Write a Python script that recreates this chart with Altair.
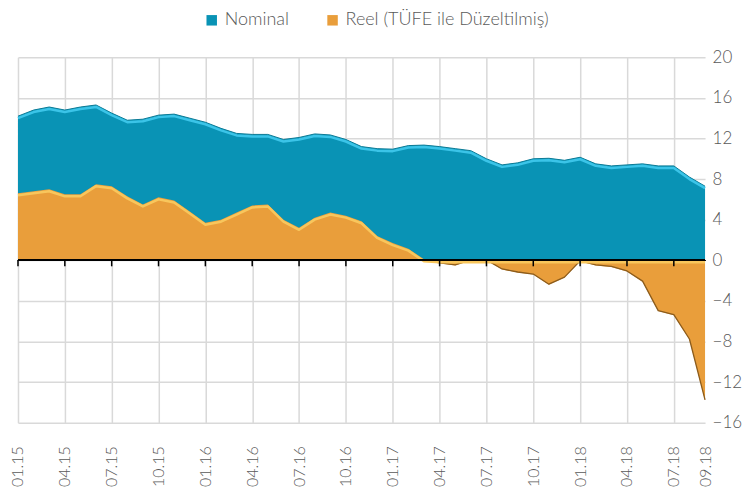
import altair as alt
import pandas as pd

months = [
    "01.15", "02.15", "03.15", "04.15", "05.15", "06.15", "07.15", "08.15", "09.15", "10.15", "11.15", "12.15",
    "01.16", "02.16", "03.16", "04.16", "05.16", "06.16", "07.16", "08.16", "09.16", "10.16", "11.16", "12.16",
    "01.17", "02.17", "03.17", "04.17", "05.17", "06.17", "07.17", "08.17", "09.17", "10.17", "11.17", "12.17",
    "01.18", "02.18", "03.18", "04.18", "05.18", "06.18", "07.18", "08.18", "09.18",
]

nominal = [
    14.2, 14.8, 15.1, 14.8, 15.1, 15.3, 14.5, 13.8, 13.9, 14.3, 14.4, 14.0,
    13.6, 13.0, 12.5, 12.4, 12.4, 11.9, 12.1, 12.45, 12.35, 11.9, 11.2, 11.0,
    10.95, 11.3, 11.35, 11.2, 11.0, 10.8, 10.0, 9.4, 9.6, 10.0, 10.05, 9.85,
    10.15, 9.5, 9.3, 9.4, 9.5, 9.3, 9.3, 8.2, 7.3,
]

reel = [
    6.6, 6.8, 7.0, 6.5, 6.5, 7.5, 7.3, 6.3, 5.5, 6.2, 5.9, 4.8,
    3.7, 4.0, 4.7, 5.4, 5.5, 4.0, 3.2, 4.2, 4.7, 4.4, 3.85, 2.4,
    1.7, 1.15, 0.1, -0.3, -0.5, 0.0, 0.0, -0.9, -1.2, -1.4, -2.4, -1.7,
    -0.1, -0.5, -0.65, -1.1, -2.1, -5.0, -5.4, -7.8, -13.8,
]

tick_labels = ["01.15", "04.15", "07.15", "10.15", "01.16", "04.16", "07.16", "10.16",
               "01.17", "04.17", "07.17", "10.17", "01.18", "04.18", "07.18", "09.18"]
tick_marks = tick_labels[:-1]
y_ticks = [-16, -12, -8, -4, 0, 4, 8, 12, 16, 20]

series_names = ["Nominal", "Reel (TÜFE ile Düzeltilmiş)"]
series_colors = ["#0993B5", "#E99E3B"]

df = pd.DataFrame({"month": months, "nominal": nominal, "reel": reel})
ticks_df = pd.DataFrame({"month": tick_marks})

FONT = "Lato"
GRAY = "#595959"

x_enc = alt.X(
    "month:O",
    scale=alt.Scale(domain=months, type="point", padding=0),
    axis=alt.Axis(
        values=tick_labels,
        title=None,
        labelAngle=-90,
        labelPadding=23,
        ticks=False,
        domain=False,
        grid=True,
        gridColor={"condition": {"test": "datum.value === '09.18'", "value": "transparent"}, "value": "#D9D9D9"},
        gridWidth=1.5,
        labelFontSize=16,
    ),
)

y_scale = alt.Scale(domain=[-16, 20], nice=False)
y_axis = alt.Axis(
    orient="right",
    values=y_ticks,
    title=None,
    ticks=False,
    domain=False,
    grid=True,
    gridColor="#D9D9D9",
    gridWidth=1.5,
    labelPadding=7,
    labelFontSize=17,
)

color_scale = alt.Scale(domain=series_names, range=series_colors)
legend = alt.Legend(
    title=None,
    orient="none",
    direction="horizontal",
    legendX=185,
    legendY=-46,
    symbolType="square",
    symbolSize=110,
    symbolStrokeWidth=0,
    labelFontSize=18,
    labelFont=FONT,
    labelFontWeight=300,
    labelColor=GRAY,
    labelOffset=4,
    labelLimit=400,
    columnPadding=34,
    padding=0,
)

base = alt.Chart(df).transform_calculate(
    reel_pos="max(datum.reel, 0)",
    reel_neg="min(datum.reel, 0)",
)

nom_area = base.transform_calculate(series=f"'{series_names[0]}'").mark_area(interpolate="linear").encode(
    x=x_enc,
    y=alt.Y("nominal:Q", scale=y_scale, axis=y_axis),
    color=alt.Color("series:N", scale=color_scale, legend=legend),
)
nom_hi = base.mark_line(color="#3BC4E8", strokeWidth=2.5, yOffset=2, strokeJoin="round").encode(
    x=x_enc, y=alt.Y("nominal:Q", scale=y_scale)
)
nom_edge = base.mark_line(color="#0B7A96", strokeWidth=1, strokeJoin="round").encode(
    x=x_enc, y=alt.Y("nominal:Q", scale=y_scale)
)

reel_area = base.transform_calculate(series=f"'{series_names[1]}'").mark_area(interpolate="linear").encode(
    x=x_enc,
    y=alt.Y("reel:Q", scale=y_scale),
    color=alt.Color("series:N", scale=color_scale, legend=legend),
)
reel_hi = base.mark_line(color="#F8C65C", strokeWidth=2.5, yOffset=2, strokeJoin="round").encode(
    x=x_enc, y=alt.Y("reel_pos:Q", scale=y_scale)
)
reel_edge = base.mark_line(color="#8C5C1C", strokeWidth=1.3, yOffset=-0.5, strokeJoin="round").encode(
    x=x_enc, y=alt.Y("reel_neg:Q", scale=y_scale)
)

zero = alt.Chart(df).mark_rule(color="black", strokeWidth=1.5).encode(y=alt.datum(0, scale=y_scale))

tick_rules = alt.Chart(ticks_df).mark_rule(color="black", strokeWidth=1.5, y2Offset=6).encode(
    x=x_enc,
    y=alt.datum(0, scale=y_scale),
    y2=alt.datum(0),
)

chart = alt.layer(
    nom_area, nom_edge, nom_hi, reel_area, reel_edge, reel_hi, zero, tick_rules
).properties(
    width=688, height=366, padding={"left": 2, "top": 3, "right": 0, "bottom": 0}
).configure_view(
    stroke=None
).configure_axis(
    labelFont=FONT,
    labelFontWeight=300,
    labelColor=GRAY,
).configure_legend(
    labelFont=FONT,
)

chart.save("out.html", embed_options={"renderer": "svg", "actions": False})
